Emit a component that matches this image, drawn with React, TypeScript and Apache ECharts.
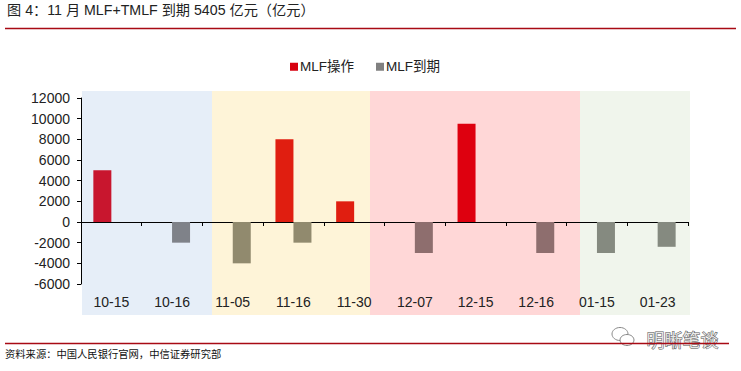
import React, { useEffect, useRef } from "react";
import * as echarts from "echarts";

const categories = ["10-15", "10-16", "11-05", "11-16", "11-30", "12-07", "12-15", "12-16", "01-15", "01-23"];
const mlfOperation: (number | null)[] = [5000, null, null, 8000, 2000, null, 9500, null, null, null];
const mlfMaturity: (number | null)[] = [null, -2000, -4000, -2000, null, -3000, null, -3000, -3000, -2400];
const operationColors = ["#C8162E", "#C8162E", "#E01E10", "#E01E10", "#E01E10", "#DE000F", "#DE000F", "#DE000F", "#DE000F", "#DE000F"];
const maturityColors = ["#7F8289", "#7F8289", "#918A6E", "#918A6E", "#918A6E", "#8E6E6E", "#8E6E6E", "#8E6E6E", "#858A80", "#858A80"];
const yMin = -6000;
const yMax = 12000;
const yStep = 2000;

const FONT = "Liberation Sans";
const CJK = "Liberation Sans, Noto Sans CJK SC";

export default function App() {
  const ref = useRef<HTMLDivElement>(null);
  useEffect(() => {
    if (!ref.current) return;
    const chart = echarts.init(ref.current, undefined, { renderer: "svg" });
    const bands = [
      { x: 82, w: 130, c: "#E6EEF8" },
      { x: 212, w: 158, c: "#FEF4D8" },
      { x: 370, w: 210, c: "#FFD7D7" },
      { x: 580, w: 110, c: "#F0F5EC" },
    ];
    chart.setOption({
      animation: false,
      backgroundColor: "#ffffff",
      textStyle: { fontFamily: FONT },
      graphic: [
        ...bands.map((b) => ({
          type: "rect",
          z: -10,
          silent: true,
          shape: { x: b.x, y: 91, width: b.w, height: 224 },
          style: { fill: b.c },
        })),
        {
          type: "text",
          left: 7,
          top: 3,
          style: { text: "图 4：11 月 MLF+TMLF 到期 5405 亿元（亿元）", fontSize: 14.2, fill: "#222", fontFamily: CJK },
        },
        { type: "line", shape: { x1: 5, y1: 28.5, x2: 736, y2: 28.5 }, style: { stroke: "#A80A14", lineWidth: 1.3 } },
        {
          type: "text",
          left: 5,
          top: 348,
          style: { text: "资料来源：中国人民银行官网，中信证券研究部", fontSize: 10.3, fill: "#111", fontFamily: "Noto Sans CJK SC" },
        },
        { type: "ellipse", shape: { cx: 620, cy: 334, rx: 8, ry: 6.5 }, style: { fill: "#fff", stroke: "#888", lineWidth: 1 } },
        { type: "ellipse", shape: { cx: 627, cy: 340, rx: 7, ry: 5.5 }, style: { fill: "#fff", stroke: "#888", lineWidth: 1 } },
        {
          type: "text",
          left: 646,
          top: 329,
          style: { text: "明晰笔谈", fontSize: 18, fill: "#e8e8e8", stroke: "#555", lineWidth: 1, fontFamily: "Noto Sans CJK SC" },
        },
        { type: "line", z: 5, shape: { x1: 5, y1: 343.5, x2: 729, y2: 343.5 }, style: { stroke: "#A80A14", lineWidth: 1.3 } },
      ],
      legend: {
        top: 55,
        left: 285,
        itemWidth: 8,
        itemHeight: 8,
        itemGap: 22,
        icon: "rect",
        textStyle: { fontSize: 13.5, color: "#222", fontFamily: CJK, padding: [0, 0, 0, -3] },
        data: ["MLF操作", "MLF到期"],
      },
      grid: { left: 81, top: 98, width: 607, height: 186, containLabel: false },
      xAxis: [
        {
          type: "category",
          data: categories,
          axisLine: { onZero: true, lineStyle: { color: "#000", width: 1 } },
          axisTick: { show: true, length: 4, inside: false, lineStyle: { color: "#000" } },
          axisLabel: { show: false },
          splitLine: { show: false },
        },
        {
          type: "category",
          data: categories,
          position: "bottom",
          axisLine: { show: false, onZero: false },
          axisTick: { show: false },
          axisLabel: { show: true, margin: 11, fontSize: 14, color: "#222", fontFamily: FONT },
        },
      ],
      yAxis: {
        type: "value",
        min: yMin,
        max: yMax,
        interval: yStep,
        axisLine: { show: true, lineStyle: { color: "#000" } },
        axisTick: { show: true, length: 4, lineStyle: { color: "#000" } },
        axisLabel: { fontSize: 14, color: "#222", margin: 11, fontFamily: FONT, formatter: (v: number) => String(v) },
        splitLine: { show: false },
      },
      series: [
        {
          name: "MLF操作",
          type: "bar",
          xAxisIndex: 0,
          barWidth: 18,
          barGap: "0%",
          itemStyle: { color: "#D7000F" },
          data: mlfOperation.map((v, i) => ({ value: v, itemStyle: { color: operationColors[i] } })),
        },
        {
          name: "MLF到期",
          type: "bar",
          xAxisIndex: 0,
          barWidth: 18,
          barGap: "0%",
          itemStyle: { color: "#808080" },
          data: mlfMaturity.map((v, i) => ({ value: v, itemStyle: { color: maturityColors[i] } })),
        },
      ],
    });
    return () => chart.dispose();
  }, []);
  return <div ref={ref} style={{ position: "absolute", left: 0, top: 0, width: 741, height: 371 }} />;
}
